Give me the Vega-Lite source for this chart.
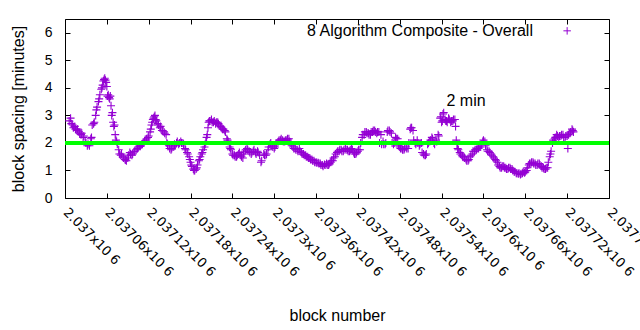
{
"$schema": "https://vega.github.io/schema/vega-lite/v6.json",
"width": 544, "height": 179,
"autosize": "none",
"padding": {"left": 65, "top": 19, "right": 31, "bottom": 132},
"background": "white",
"config": {"view": {"stroke": "black", "strokeWidth": 1}, "font": "Liberation Sans",
  "axis": {"grid": false, "domain": false, "tickColor": "black", "labelColor": "black", "titleColor": "black", "tickSize": -5, "titleFontWeight": "normal"}},
"data": {"values": [
{"b":2037006,"v":2.8},{"b":2037008,"v":2.9},{"b":2037009,"v":2.7},{"b":2037011,"v":2.65},{"b":2037012,"v":2.55},{"b":2037014,"v":2.6},{"b":2037015,"v":2.5},{"b":2037017,"v":2.45},{"b":2037018,"v":2.5},{"b":2037020,"v":2.4},{"b":2037021,"v":2.35},{"b":2037023,"v":2.3},{"b":2037024,"v":2.35},{"b":2037026,"v":2.2},{"b":2037027,"v":2.25},{"b":2037029,"v":2.05},{"b":2037030,"v":2.0},{"b":2037032,"v":1.9},{"b":2037033,"v":1.95},{"b":2037035,"v":1.9},{"b":2037037,"v":2.15},{"b":2037038,"v":2.2},{"b":2037039,"v":2.65},{"b":2037041,"v":2.7},{"b":2037042,"v":2.75},{"b":2037044,"v":3.0},{"b":2037045,"v":3.2},{"b":2037046,"v":3.3},{"b":2037048,"v":3.5},{"b":2037049,"v":3.6},{"b":2037050,"v":3.75},{"b":2037052,"v":3.95},{"b":2037053,"v":4.0},{"b":2037054,"v":4.1},{"b":2037055,"v":4.25},{"b":2037056,"v":4.3},{"b":2037057,"v":4.35},{"b":2037058,"v":4.28},{"b":2037059,"v":4.2},{"b":2037060,"v":4.05},{"b":2037061,"v":3.7},{"b":2037062,"v":3.75},{"b":2037063,"v":3.65},{"b":2037064,"v":3.6},{"b":2037065,"v":3.7},{"b":2037066,"v":3.35},{"b":2037067,"v":3.0},{"b":2037068,"v":3.1},{"b":2037069,"v":2.75},{"b":2037070,"v":2.6},{"b":2037071,"v":2.65},{"b":2037072,"v":2.3},{"b":2037073,"v":2.1},{"b":2037074,"v":2.05},{"b":2037075,"v":1.95},{"b":2037077,"v":1.75},{"b":2037078,"v":1.6},{"b":2037080,"v":1.55},{"b":2037081,"v":1.6},{"b":2037083,"v":1.5},{"b":2037084,"v":1.45},{"b":2037086,"v":1.4},{"b":2037087,"v":1.38},{"b":2037088,"v":1.35},{"b":2037090,"v":1.45},{"b":2037091,"v":1.55},{"b":2037093,"v":1.65},{"b":2037094,"v":1.6},{"b":2037096,"v":1.55},{"b":2037097,"v":1.6},{"b":2037099,"v":1.68},{"b":2037100,"v":1.7},{"b":2037102,"v":1.75},{"b":2037104,"v":1.8},{"b":2037105,"v":1.85},{"b":2037107,"v":1.9},{"b":2037108,"v":1.88},{"b":2037110,"v":1.95},{"b":2037111,"v":1.95},{"b":2037113,"v":2.0},{"b":2037114,"v":2.05},{"b":2037116,"v":2.1},{"b":2037117,"v":2.15},{"b":2037119,"v":2.2},{"b":2037120,"v":2.25},{"b":2037122,"v":2.4},{"b":2037123,"v":2.5},{"b":2037124,"v":2.65},{"b":2037125,"v":2.75},{"b":2037126,"v":2.85},{"b":2037127,"v":2.9},{"b":2037128,"v":2.95},{"b":2037129,"v":3.0},{"b":2037130,"v":2.85},{"b":2037131,"v":2.8},{"b":2037133,"v":2.7},{"b":2037134,"v":2.65},{"b":2037136,"v":2.55},{"b":2037137,"v":2.6},{"b":2037139,"v":2.45},{"b":2037140,"v":2.45},{"b":2037142,"v":2.4},{"b":2037143,"v":2.35},{"b":2037145,"v":2.3},{"b":2037146,"v":2.0},{"b":2037147,"v":1.95},{"b":2037149,"v":1.9},{"b":2037150,"v":1.8},{"b":2037152,"v":1.75},{"b":2037153,"v":1.8},{"b":2037155,"v":1.85},{"b":2037157,"v":1.95},{"b":2037158,"v":1.9},{"b":2037160,"v":2.0},{"b":2037161,"v":2.05},{"b":2037163,"v":1.95},{"b":2037164,"v":2.0},{"b":2037166,"v":2.05},{"b":2037167,"v":2.0},{"b":2037169,"v":2.0},{"b":2037170,"v":1.95},{"b":2037172,"v":1.8},{"b":2037173,"v":1.75},{"b":2037175,"v":1.65},{"b":2037176,"v":1.6},{"b":2037178,"v":1.5},{"b":2037179,"v":1.4},{"b":2037180,"v":1.3},{"b":2037181,"v":1.2},{"b":2037182,"v":1.15},{"b":2037184,"v":1.05},{"b":2037185,"v":1.0},{"b":2037186,"v":1.0},{"b":2037188,"v":1.05},{"b":2037189,"v":1.1},{"b":2037190,"v":1.2},{"b":2037192,"v":1.35},{"b":2037193,"v":1.4},{"b":2037194,"v":1.5},{"b":2037196,"v":1.6},{"b":2037197,"v":1.65},{"b":2037198,"v":1.75},{"b":2037200,"v":1.85},{"b":2037201,"v":1.95},{"b":2037202,"v":2.05},{"b":2037203,"v":2.2},{"b":2037204,"v":2.3},{"b":2037205,"v":2.55},{"b":2037206,"v":2.75},{"b":2037207,"v":2.8},{"b":2037208,"v":2.8},{"b":2037210,"v":2.85},{"b":2037211,"v":2.75},{"b":2037213,"v":2.75},{"b":2037214,"v":2.8},{"b":2037216,"v":2.7},{"b":2037217,"v":2.75},{"b":2037219,"v":2.75},{"b":2037220,"v":2.7},{"b":2037221,"v":2.65},{"b":2037223,"v":2.6},{"b":2037224,"v":2.55},{"b":2037226,"v":2.5},{"b":2037227,"v":2.5},{"b":2037229,"v":2.45},{"b":2037230,"v":2.4},{"b":2037232,"v":2.15},{"b":2037233,"v":2.1},{"b":2037234,"v":2.05},{"b":2037236,"v":1.85},{"b":2037237,"v":1.8},{"b":2037238,"v":1.75},{"b":2037240,"v":1.6},{"b":2037241,"v":1.55},{"b":2037243,"v":1.55},{"b":2037244,"v":1.5},{"b":2037246,"v":1.5},{"b":2037247,"v":1.55},{"b":2037249,"v":1.6},{"b":2037250,"v":1.65},{"b":2037252,"v":1.55},{"b":2037253,"v":1.5},{"b":2037255,"v":1.45},{"b":2037256,"v":1.6},{"b":2037258,"v":1.7},{"b":2037259,"v":1.75},{"b":2037261,"v":1.8},{"b":2037262,"v":1.75},{"b":2037264,"v":1.7},{"b":2037265,"v":1.65},{"b":2037267,"v":1.6},{"b":2037268,"v":1.65},{"b":2037270,"v":1.7},{"b":2037271,"v":1.75},{"b":2037273,"v":1.65},{"b":2037274,"v":1.6},{"b":2037276,"v":1.7},{"b":2037277,"v":1.65},{"b":2037279,"v":1.55},{"b":2037281,"v":1.3},{"b":2037282,"v":1.35},{"b":2037285,"v":1.6},{"b":2037286,"v":1.55},{"b":2037288,"v":1.55},{"b":2037289,"v":1.6},{"b":2037291,"v":1.75},{"b":2037292,"v":1.85},{"b":2037294,"v":1.95},{"b":2037295,"v":2.0},{"b":2037297,"v":1.9},{"b":2037298,"v":1.85},{"b":2037300,"v":1.8},{"b":2037301,"v":1.85},{"b":2037303,"v":1.95},{"b":2037304,"v":2.0},{"b":2037306,"v":2.05},{"b":2037307,"v":2.1},{"b":2037309,"v":2.1},{"b":2037310,"v":2.15},{"b":2037312,"v":2.1},{"b":2037313,"v":2.05},{"b":2037315,"v":2.05},{"b":2037316,"v":2.1},{"b":2037318,"v":2.1},{"b":2037319,"v":2.15},{"b":2037321,"v":2.15},{"b":2037322,"v":2.05},{"b":2037324,"v":2.0},{"b":2037325,"v":1.9},{"b":2037327,"v":1.85},{"b":2037328,"v":1.8},{"b":2037330,"v":1.8},{"b":2037331,"v":1.75},{"b":2037333,"v":1.75},{"b":2037334,"v":1.7},{"b":2037336,"v":1.8},{"b":2037337,"v":1.7},{"b":2037339,"v":1.65},{"b":2037340,"v":1.6},{"b":2037342,"v":1.6},{"b":2037343,"v":1.55},{"b":2037345,"v":1.55},{"b":2037346,"v":1.5},{"b":2037348,"v":1.5},{"b":2037349,"v":1.45},{"b":2037351,"v":1.45},{"b":2037352,"v":1.4},{"b":2037354,"v":1.4},{"b":2037355,"v":1.35},{"b":2037357,"v":1.35},{"b":2037358,"v":1.3},{"b":2037360,"v":1.3},{"b":2037361,"v":1.28},{"b":2037363,"v":1.28},{"b":2037364,"v":1.25},{"b":2037366,"v":1.25},{"b":2037367,"v":1.2},{"b":2037369,"v":1.2},{"b":2037370,"v":1.15},{"b":2037372,"v":1.22},{"b":2037373,"v":1.2},{"b":2037375,"v":1.25},{"b":2037376,"v":1.2},{"b":2037378,"v":1.2},{"b":2037379,"v":1.25},{"b":2037381,"v":1.3},{"b":2037382,"v":1.35},{"b":2037384,"v":1.35},{"b":2037385,"v":1.45},{"b":2037387,"v":1.5},{"b":2037388,"v":1.6},{"b":2037390,"v":1.65},{"b":2037391,"v":1.7},{"b":2037393,"v":1.7},{"b":2037394,"v":1.75},{"b":2037396,"v":1.75},{"b":2037397,"v":1.7},{"b":2037399,"v":1.7},{"b":2037400,"v":1.75},{"b":2037402,"v":1.8},{"b":2037403,"v":1.75},{"b":2037405,"v":1.75},{"b":2037406,"v":1.7},{"b":2037408,"v":1.7},{"b":2037409,"v":1.75},{"b":2037411,"v":1.8},{"b":2037412,"v":1.75},{"b":2037414,"v":1.65},{"b":2037415,"v":1.6},{"b":2037417,"v":1.6},{"b":2037418,"v":1.65},{"b":2037420,"v":1.7},{"b":2037421,"v":1.75},{"b":2037423,"v":1.75},{"b":2037424,"v":2.0},{"b":2037426,"v":2.2},{"b":2037427,"v":2.3},{"b":2037429,"v":2.3},{"b":2037430,"v":2.4},{"b":2037432,"v":2.4},{"b":2037433,"v":2.35},{"b":2037435,"v":2.35},{"b":2037436,"v":2.3},{"b":2037438,"v":2.3},{"b":2037439,"v":2.4},{"b":2037441,"v":2.4},{"b":2037442,"v":2.45},{"b":2037444,"v":2.45},{"b":2037445,"v":2.4},{"b":2037447,"v":2.35},{"b":2037448,"v":2.4},{"b":2037450,"v":2.4},{"b":2037451,"v":2.0},{"b":2037453,"v":2.3},{"b":2037454,"v":1.95},{"b":2037456,"v":2.05},{"b":2037457,"v":1.95},{"b":2037459,"v":1.95},{"b":2037460,"v":2.0},{"b":2037462,"v":2.4},{"b":2037463,"v":2.45},{"b":2037465,"v":2.45},{"b":2037466,"v":2.4},{"b":2037468,"v":2.35},{"b":2037469,"v":2.0},{"b":2037471,"v":1.95},{"b":2037472,"v":2.0},{"b":2037474,"v":2.2},{"b":2037475,"v":2.15},{"b":2037477,"v":2.15},{"b":2037478,"v":1.9},{"b":2037480,"v":1.85},{"b":2037481,"v":1.8},{"b":2037483,"v":1.8},{"b":2037484,"v":1.75},{"b":2037486,"v":1.75},{"b":2037487,"v":1.8},{"b":2037489,"v":1.85},{"b":2037490,"v":1.8},{"b":2037492,"v":1.8},{"b":2037493,"v":2.0},{"b":2037495,"v":2.5},{"b":2037496,"v":2.55},{"b":2037497,"v":2.55},{"b":2037499,"v":2.45},{"b":2037500,"v":2.1},{"b":2037502,"v":2.0},{"b":2037503,"v":1.95},{"b":2037505,"v":2.1},{"b":2037506,"v":2.0},{"b":2037508,"v":1.9},{"b":2037509,"v":1.95},{"b":2037511,"v":2.0},{"b":2037512,"v":1.65},{"b":2037514,"v":1.6},{"b":2037515,"v":1.55},{"b":2037517,"v":1.55},{"b":2037518,"v":1.6},{"b":2037520,"v":1.95},{"b":2037521,"v":2.0},{"b":2037523,"v":2.05},{"b":2037524,"v":2.1},{"b":2037526,"v":2.2},{"b":2037527,"v":2.15},{"b":2037529,"v":2.0},{"b":2037530,"v":1.95},{"b":2037532,"v":2.1},{"b":2037533,"v":2.05},{"b":2037535,"v":2.3},{"b":2037536,"v":2.25},{"b":2037538,"v":2.9},{"b":2037539,"v":2.95},{"b":2037540,"v":2.75},{"b":2037541,"v":2.8},{"b":2037542,"v":3.05},{"b":2037543,"v":3.1},{"b":2037545,"v":2.85},{"b":2037546,"v":2.8},{"b":2037547,"v":2.8},{"b":2037548,"v":2.75},{"b":2037550,"v":2.9},{"b":2037551,"v":2.85},{"b":2037553,"v":2.75},{"b":2037554,"v":2.8},{"b":2037556,"v":2.8},{"b":2037557,"v":2.85},{"b":2037559,"v":2.85},{"b":2037560,"v":2.6},{"b":2037561,"v":2.1},{"b":2037562,"v":1.95},{"b":2037563,"v":1.8},{"b":2037564,"v":1.75},{"b":2037566,"v":1.65},{"b":2037567,"v":1.6},{"b":2037569,"v":1.55},{"b":2037570,"v":1.5},{"b":2037572,"v":1.5},{"b":2037573,"v":1.45},{"b":2037575,"v":1.4},{"b":2037576,"v":1.35},{"b":2037578,"v":1.35},{"b":2037579,"v":1.4},{"b":2037581,"v":1.5},{"b":2037582,"v":1.55},{"b":2037584,"v":1.6},{"b":2037585,"v":1.7},{"b":2037587,"v":1.7},{"b":2037588,"v":1.75},{"b":2037590,"v":1.75},{"b":2037591,"v":1.8},{"b":2037593,"v":1.8},{"b":2037594,"v":1.85},{"b":2037596,"v":1.85},{"b":2037597,"v":1.95},{"b":2037599,"v":2.05},{"b":2037600,"v":2.1},{"b":2037602,"v":2.05},{"b":2037603,"v":1.9},{"b":2037605,"v":1.75},{"b":2037606,"v":1.7},{"b":2037608,"v":1.7},{"b":2037609,"v":1.65},{"b":2037611,"v":1.6},{"b":2037612,"v":1.55},{"b":2037614,"v":1.5},{"b":2037615,"v":1.45},{"b":2037617,"v":1.4},{"b":2037618,"v":1.35},{"b":2037620,"v":1.3},{"b":2037621,"v":1.2},{"b":2037623,"v":1.15},{"b":2037624,"v":1.1},{"b":2037626,"v":1.1},{"b":2037627,"v":1.15},{"b":2037629,"v":1.15},{"b":2037630,"v":1.1},{"b":2037632,"v":1.1},{"b":2037633,"v":1.05},{"b":2037635,"v":1.05},{"b":2037636,"v":1.1},{"b":2037638,"v":1.1},{"b":2037639,"v":1.05},{"b":2037641,"v":1.05},{"b":2037642,"v":1.0},{"b":2037644,"v":0.95},{"b":2037645,"v":0.95},{"b":2037647,"v":0.9},{"b":2037648,"v":0.9},{"b":2037650,"v":0.88},{"b":2037651,"v":0.9},{"b":2037653,"v":0.85},{"b":2037654,"v":0.88},{"b":2037656,"v":0.9},{"b":2037657,"v":0.95},{"b":2037659,"v":0.92},{"b":2037660,"v":0.95},{"b":2037662,"v":1.0},{"b":2037663,"v":1.1},{"b":2037665,"v":1.2},{"b":2037666,"v":1.25},{"b":2037668,"v":1.25},{"b":2037669,"v":1.3},{"b":2037671,"v":1.3},{"b":2037672,"v":1.25},{"b":2037674,"v":1.25},{"b":2037675,"v":1.2},{"b":2037677,"v":1.2},{"b":2037678,"v":1.25},{"b":2037680,"v":1.25},{"b":2037681,"v":1.2},{"b":2037683,"v":1.15},{"b":2037684,"v":1.1},{"b":2037686,"v":1.1},{"b":2037687,"v":1.05},{"b":2037689,"v":1.05},{"b":2037690,"v":1.1},{"b":2037692,"v":1.1},{"b":2037693,"v":1.3},{"b":2037695,"v":1.5},{"b":2037696,"v":1.6},{"b":2037697,"v":1.7},{"b":2037699,"v":2.0},{"b":2037700,"v":2.1},{"b":2037702,"v":2.15},{"b":2037703,"v":2.2},{"b":2037705,"v":2.3},{"b":2037706,"v":2.25},{"b":2037708,"v":2.2},{"b":2037709,"v":2.25},{"b":2037711,"v":2.25},{"b":2037712,"v":2.3},{"b":2037714,"v":2.3},{"b":2037715,"v":2.2},{"b":2037717,"v":2.2},{"b":2037718,"v":2.25},{"b":2037720,"v":2.25},{"b":2037721,"v":1.8},{"b":2037722,"v":2.3},{"b":2037724,"v":2.35},{"b":2037725,"v":2.4},{"b":2037727,"v":2.5},{"b":2037728,"v":2.45},{"b":2037729,"v":2.4}
]},
"layer": [
  {"mark": {"type": "point", "shape": "M-1,0H1M0,-1V1", "size": 64, "filled": false, "stroke": "#9400d3", "strokeWidth": 1.1, "opacity": 1},
   "encoding": {
     "x": {"field": "b", "type": "quantitative", "scale": {"domain": [2037000, 2037780], "nice": false, "zero": false},
       "axis": {"orient": "bottom", "values": [2037000,2037060,2037120,2037180,2037240,2037300,2037360,2037420,2037480,2037540,2037600,2037660,2037720,2037780],
         "labelExpr": "format(datum.value/1000000, '.6~g') + 'x10 6'", "labelAngle": 45, "labelAlign": "left", "labelBaseline": "middle",
         "labelFont": "DejaVu Sans", "labelFontSize": 13, "labelPadding": 17, "labelOverlap": false, "labelBound": false, "labelFlush": false,
         "title": "block number", "titleFontSize": 16, "titleBaseline": "alphabetic", "titleY": 122}},
     "y": {"field": "v", "type": "quantitative", "scale": {"domain": [0, 6.5], "nice": false},
       "axis": {"orient": "left", "values": [0,1,2,3,4,5,6], "labelFontSize": 14, "labelPadding": 18, "title": "block spacing [minutes]", "titleFontSize": 16, "titleX": -47, "titleBaseline": "middle"}}
   }},
  {"mark": {"type": "point", "opacity": 0, "size": 1},
   "encoding": {
     "x": {"field": "b", "type": "quantitative", "axis": {"orient": "top", "values": [2037000,2037060,2037120,2037180,2037240,2037300,2037360,2037420,2037480,2037540,2037600,2037660,2037720,2037780], "labels": false, "title": null}},
     "y": {"field": "v", "type": "quantitative", "axis": {"orient": "right", "values": [0,1,2,3,4,5,6], "labels": false, "title": null}}
   }},
  {"data": {"values": [{}]}, "mark": {"type": "rule", "stroke": "#00ff00", "strokeWidth": 4}, "encoding": {"y": {"datum": 2, "axis": null}}},
  {"data": {"values": [{}]}, "mark": {"type": "text", "text": "2 min", "align": "left", "baseline": "middle", "fontSize": 16, "color": "black"},
   "encoding": {"x": {"datum": 2037547, "axis": null}, "y": {"datum": 3.53, "axis": null}}},
  {"data": {"values": [{}]}, "mark": {"type": "text", "text": "8 Algorithm Composite - Overall", "align": "right", "baseline": "middle", "fontSize": 16, "color": "black"},
   "encoding": {"x": {"datum": 2037671, "axis": null}, "y": {"datum": 6.07, "axis": null}}},
  {"data": {"values": [{}]}, "mark": {"type": "point", "shape": "M-1,0H1M0,-1V1", "size": 56, "filled": false, "stroke": "#9400d3", "strokeWidth": 1, "opacity": 1},
   "encoding": {"x": {"datum": 2037720, "axis": null}, "y": {"datum": 6.07, "axis": null}}}
],
"resolve": {"axis": {"x": "independent", "y": "independent"}}
}
